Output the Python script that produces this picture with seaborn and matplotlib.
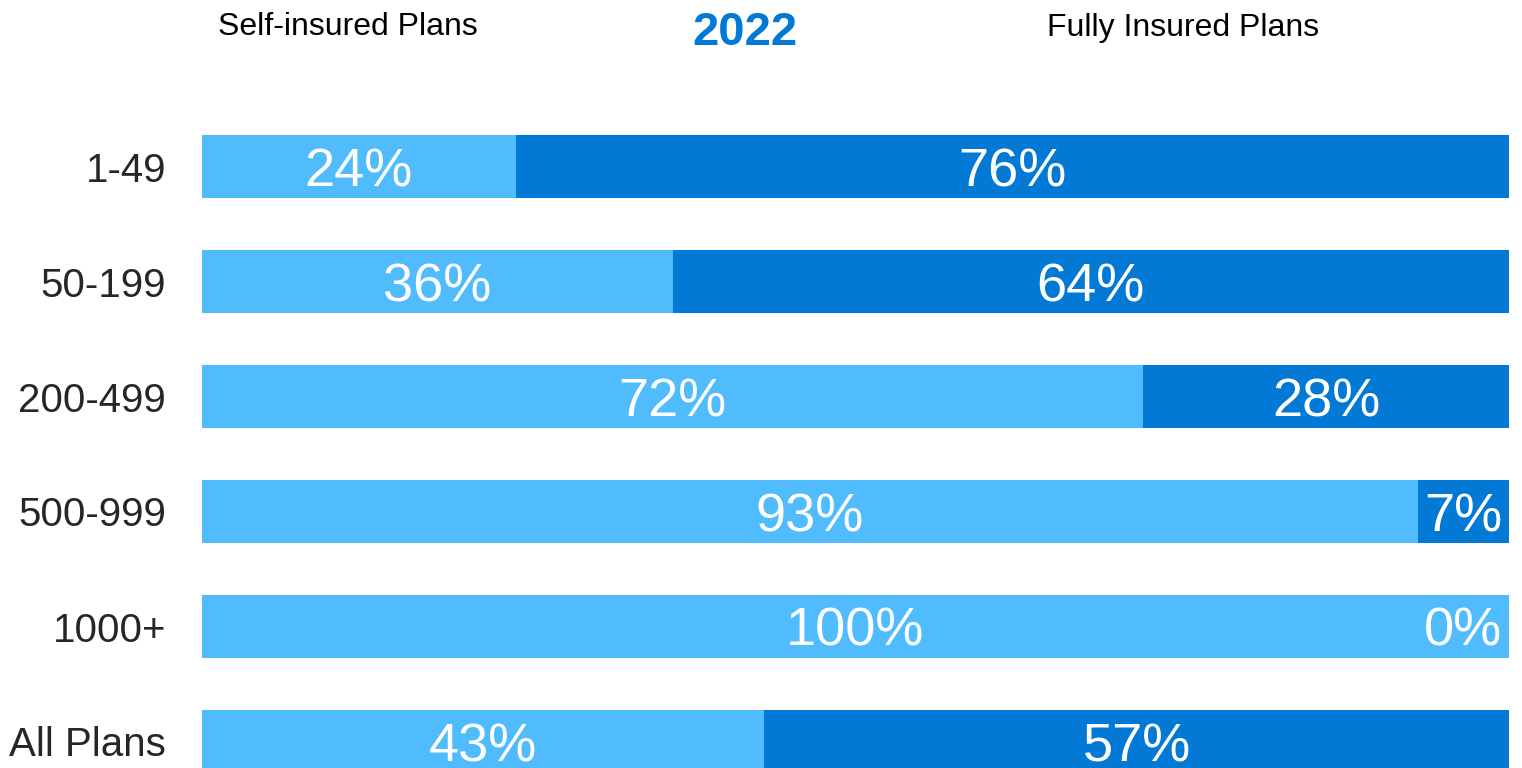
import matplotlib
matplotlib.use("Agg")
import matplotlib.pyplot as plt
import seaborn as sns
import pandas as pd

# Firm size groups and share of covered workers by plan funding type
categories = ["1-49", "50-199", "200-499", "500-999", "1000+", "All Plans"]
self_insured = [24, 36, 72, 93, 100, 43]
fully_insured = [76, 64, 28, 7, 0, 57]

LIGHT = "#50BCFE"
DARK = "#0279D5"
TEXT = "#262626"

sns.set_theme(style="white")
plt.rcParams["font.family"] = ["Liberation Sans", "DejaVu Sans"]

W, H = 1522, 768
fig = plt.figure(figsize=(W / 100, H / 100), dpi=100)
ax = fig.add_axes([202 / W, 0, (1509 - 202) / W, 1])

df = pd.DataFrame({
    "group": categories,
    "self": self_insured,
    "fully": fully_insured,
})
df["total"] = df["self"] + df["fully"]

# Full-width bar in dark blue, with the self-insured share overlaid from the left
sns.barplot(data=df, x="total", y="group", orient="h", color=DARK,
            width=0.55, saturation=1, ax=ax, linewidth=0)
sns.barplot(data=df, x="self", y="group", orient="h", color=LIGHT,
            width=0.55, saturation=1, ax=ax, linewidth=0)

ax.set_xlim(0, 100)
# row spacing of 115px with the first row centred 166.5px from the top
ax.set_ylim((H - 166.5) / 115, -166.5 / 115)
ax.set_xlabel("")
ax.set_ylabel("")
ax.set_xticks([])
ax.tick_params(axis="y", length=0, pad=26, labelsize=29, labelcolor=TEXT)
for s in ax.spines.values():
    s.set_visible(False)

label_kw = dict(color="white", fontsize=39, va="center_baseline")
for i, (s, f) in enumerate(zip(self_insured, fully_insured)):
    ax.text(s / 2, i, f"{s}%", ha="center", **label_kw)
    if f > 0:
        ax.text(s + f / 2, i, f"{f}%", ha="center", **label_kw)
    else:
        ax.annotate(f"{f}%", xy=(100, i), xytext=(-7, 0),
                    textcoords="offset pixels", ha="right", **label_kw)

fig.text(348 / W, 1 - 27 / H, "Self-insured Plans", ha="center", va="center",
         fontsize=23, color="black")
fig.text(745 / W, 1 - 33 / H, "2022", ha="center", va="center",
         fontsize=34, fontweight="bold", color=DARK)
fig.text(1183 / W, 1 - 28 / H, "Fully Insured Plans", ha="center", va="center",
         fontsize=23, color="black")

fig.savefig("out.png", dpi=100)
